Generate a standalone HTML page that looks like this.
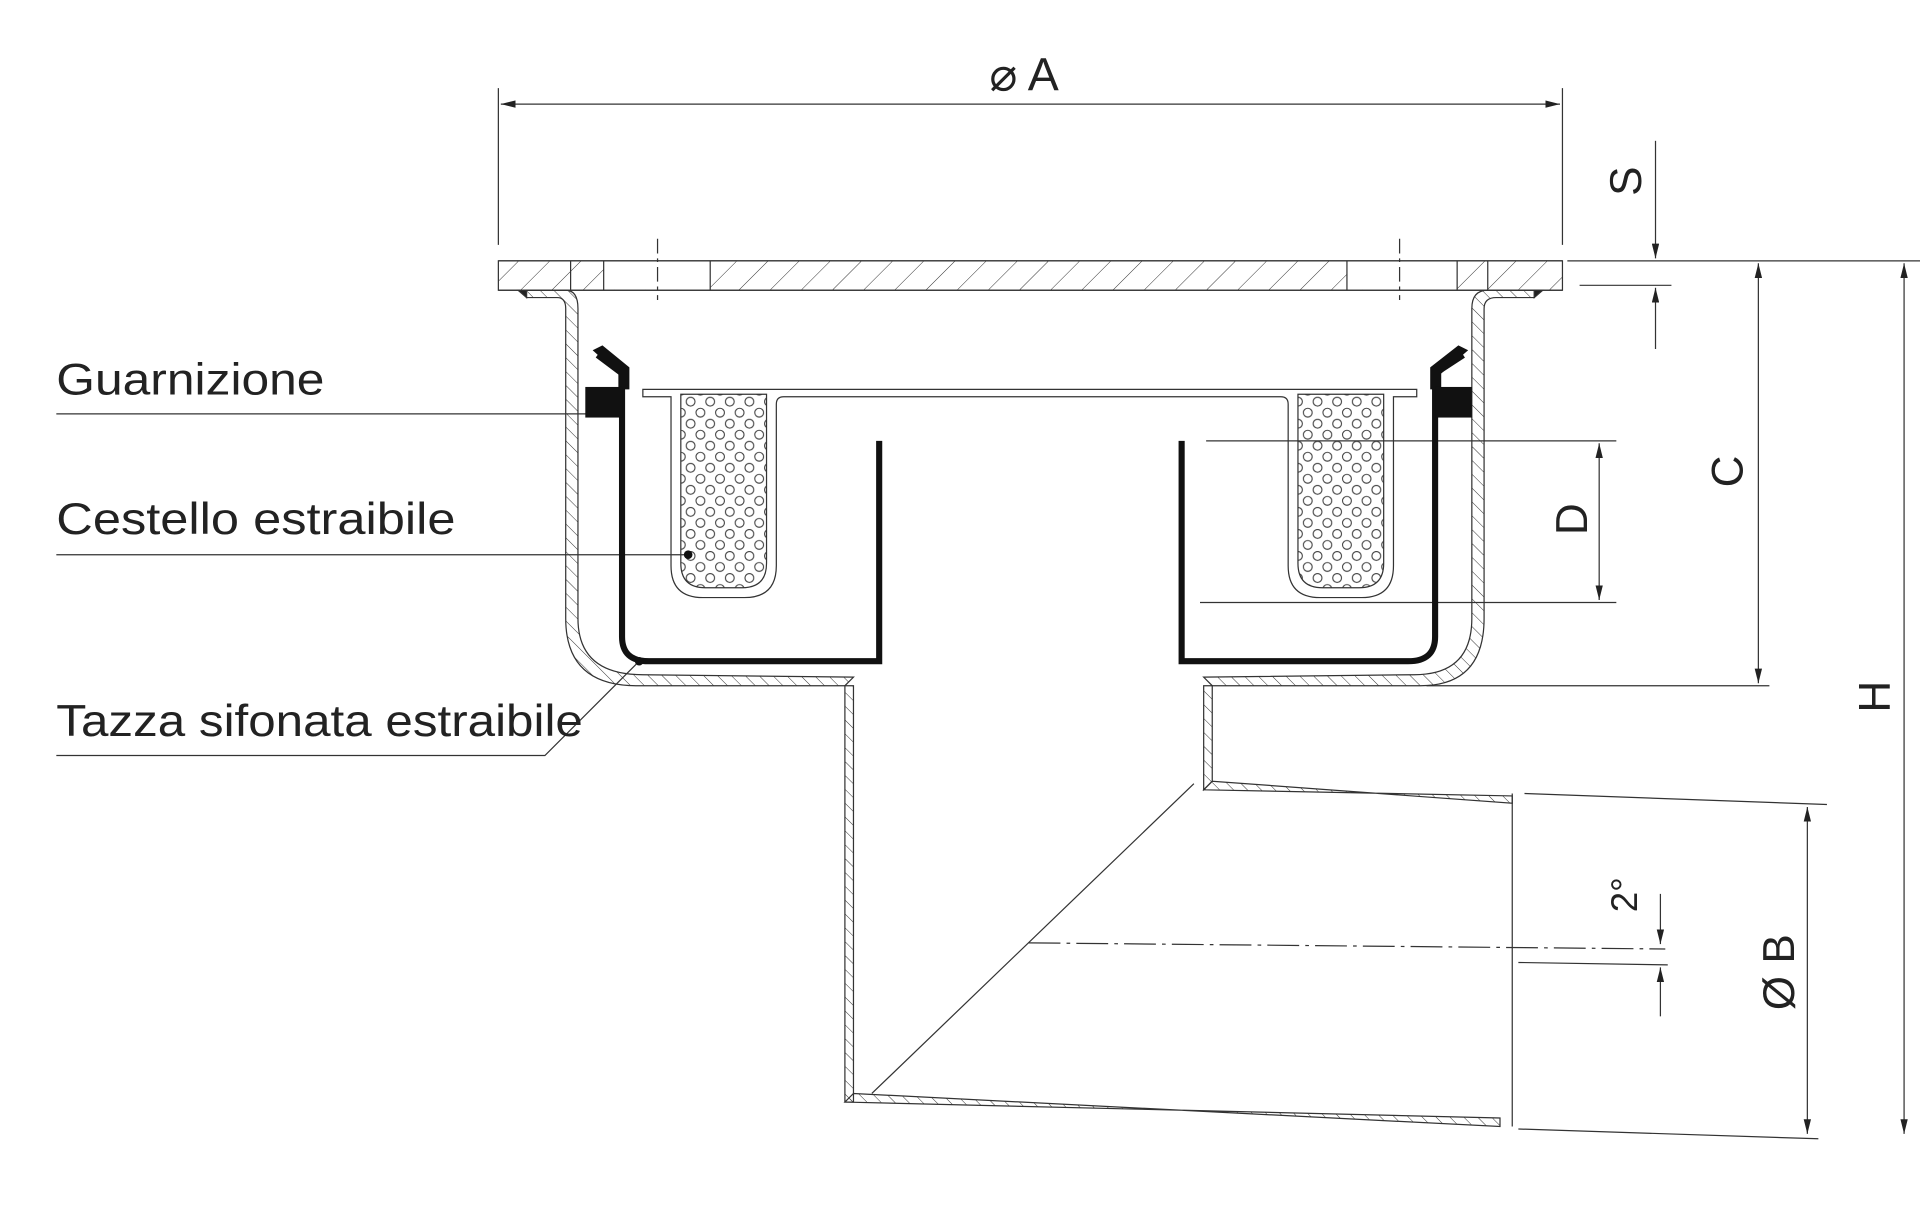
<!DOCTYPE html>
<html><head><meta charset="utf-8"><style>
html,body{margin:0;padding:0;background:#fff}
svg{display:block}
text{font-family:"Liberation Sans",sans-serif;fill:#222}
</style></head><body>
<svg width="1920" height="1207" viewBox="0 0 1568 985.7" xmlns="http://www.w3.org/2000/svg">
<defs>
<pattern id="h" width="8" height="8" patternUnits="userSpaceOnUse" patternTransform="rotate(-45)">
<line x1="0" y1="0" x2="0" y2="8" stroke="#333" stroke-width="0.8"/>
</pattern>
<pattern id="hf" width="18" height="18" patternUnits="userSpaceOnUse" patternTransform="rotate(45)">
<line x1="0" y1="0" x2="0" y2="18" stroke="#333" stroke-width="0.8"/>
</pattern>
<pattern id="holes" width="16" height="18" patternUnits="userSpaceOnUse">
<circle cx="4" cy="4" r="3.6" fill="none" stroke="#444" stroke-width="0.9"/>
<circle cx="12" cy="13" r="3.6" fill="none" stroke="#444" stroke-width="0.9"/>
</pattern>
<marker id="a" viewBox="0 0 12 6" refX="12" refY="3" markerWidth="12" markerHeight="6" orient="auto-start-reverse" markerUnits="userSpaceOnUse">
<path d="M0,0 L12,3 L0,6 z" fill="#222"/></marker>
</defs>
<g stroke="#333" fill="none" stroke-width="1">
<line x1="407" y1="72" x2="407" y2="200"/><line x1="1276" y1="72" x2="1276" y2="200"/>
<line x1="409" y1="85" x2="1274" y2="85" marker-start="url(#a)" marker-end="url(#a)"/>
<rect x="407" y="213" width="869" height="24" fill="url(#hf)"/>
<rect x="493" y="213.5" width="87" height="23" fill="#fff" stroke="none"/>
<rect x="1100" y="213.5" width="90" height="23" fill="#fff" stroke="none"/>
<line x1="407" y1="213" x2="1276" y2="213"/><line x1="407" y1="237" x2="1276" y2="237"/>
<line x1="466" y1="213" x2="466" y2="237"/><line x1="493" y1="213" x2="493" y2="237"/>
<line x1="580" y1="213" x2="580" y2="237"/><line x1="1100" y1="213" x2="1100" y2="237"/>
<line x1="1190" y1="213" x2="1190" y2="237"/><line x1="1215" y1="213" x2="1215" y2="237"/>
<line x1="537" y1="195" x2="537" y2="245" stroke-dasharray="12,4,3,4"/>
<line x1="1143" y1="195" x2="1143" y2="245" stroke-dasharray="12,4,3,4"/>
<path d="M430,237 L430,243 L455,243 Q462,243 462,252 L462,505 Q462,560 520,560 L690,560 L697,553 L525,551 Q472,551 472,505 L472,252 Q472,237 462,237 Z" fill="url(#h)"/>
<path d="M1253,237 L1253,243 L1222,243 Q1212,243 1212,252 L1212,505 Q1212,560 1160,560 L990,560 L983,553 L1155,551 Q1202,551 1202,505 L1202,252 Q1202,237 1215,237 Z" fill="url(#h)"/>
<path d="M423,237 L430,243 L430,237Z" fill="#222"/><path d="M1260,237 L1253,243 L1253,237Z" fill="#222"/>
<path d="M690,560 L690,900 L697,900 L697,560Z" fill="url(#h)"/>
<path d="M983,560 L983,645 L990,638 L990,560Z" fill="url(#h)"/>
<path d="M983,645 L1235,650 L1235,656 L990,638Z" fill="url(#h)"/>
<path d="M690,900 L1225,913 L1225,920 L697,893Z" fill="url(#h)"/>
<line x1="1235" y1="648" x2="1235" y2="920"/>
<line x1="975" y1="640" x2="712" y2="893"/>
<line x1="840" y1="770" x2="1360" y2="775" stroke-dasharray="26,5,3,5"/>
<path d="M525,318 L1157,318 L1157,324 L1138,324 L1138,462 Q1138,488 1112,488 L1078,488 Q1052,488 1052,462 L1052,330 Q1052,324 1046,324 L640,324 Q634,324 634,330 L634,462 Q634,488 608,488 L574,488 Q548,488 548,462 L548,324 L525,324 Z" fill="#fff"/>
<path d="M556,322 L626,322 L626,460 Q626,480 606,480 L576,480 Q556,480 556,460Z" fill="url(#holes)"/>
<path d="M1060,322 L1130,322 L1130,460 Q1130,480 1110,480 L1080,480 Q1060,480 1060,460Z" fill="url(#holes)"/>
<line x1="46" y1="338" x2="500" y2="338"/>
<line x1="46" y1="453" x2="562" y2="453"/>
<polyline points="46,617 445,617 522,540"/>
<line x1="1280" y1="213" x2="1568" y2="213"/>
<line x1="1290" y1="233" x2="1365" y2="233"/>
<line x1="1352" y1="115" x2="1352" y2="211" marker-end="url(#a)"/>
<line x1="1352" y1="285" x2="1352" y2="235" marker-end="url(#a)"/>
<line x1="1165" y1="560" x2="1445" y2="560"/>
<line x1="1436" y1="215" x2="1436" y2="558" marker-start="url(#a)" marker-end="url(#a)"/>
<line x1="985" y1="360" x2="1320" y2="360"/><line x1="980" y1="492" x2="1320" y2="492"/>
<line x1="1306" y1="362" x2="1306" y2="490" marker-start="url(#a)" marker-end="url(#a)"/>
<line x1="1555" y1="215" x2="1555" y2="926" marker-start="url(#a)" marker-end="url(#a)"/>
<line x1="1245" y1="648" x2="1492" y2="657"/><line x1="1240" y1="922" x2="1485" y2="930"/>
<line x1="1476" y1="659" x2="1476" y2="926" marker-start="url(#a)" marker-end="url(#a)"/>
<line x1="1240" y1="786" x2="1362" y2="788"/>
<line x1="1356" y1="730" x2="1356" y2="771" marker-end="url(#a)"/>
<line x1="1356" y1="830" x2="1356" y2="790" marker-end="url(#a)"/>
</g>
<g stroke="#111" stroke-width="5" fill="none">
<path d="M488,290 L508,305 L508,520 Q508,540 530,540 L718,540 L718,360"/>
<path d="M1195,290 L1172,305 L1172,520 Q1172,540 1150,540 L965,540 L965,360"/>
</g>
<path d="M484,286 L492,282 L514,300 L514,318 L505,318 L505,305Z" fill="#111"/>
<path d="M1199,286 L1191,282 L1168,300 L1168,318 L1177,318 L1177,305Z" fill="#111"/>
<rect x="478" y="316" width="30" height="25" fill="#111"/>
<rect x="1172" y="316" width="30" height="25" fill="#111"/>
<circle cx="562" cy="453" r="3.5" fill="#111"/><circle cx="522" cy="540" r="3.5" fill="#111"/>
<text x="46" y="322" font-size="36" textLength="219" lengthAdjust="spacingAndGlyphs">Guarnizione</text>
<text x="46" y="436" font-size="36" textLength="326" lengthAdjust="spacingAndGlyphs">Cestello estraibile</text>
<text x="46" y="601" font-size="36" textLength="430" lengthAdjust="spacingAndGlyphs">Tazza sifonata estraibile</text>
<text x="808" y="74" font-size="38">⌀ A</text>
<text font-size="36" transform="translate(1340,160) rotate(-90)">S</text>
<text font-size="36" transform="translate(1423,398) rotate(-90)">C</text>
<text font-size="36" transform="translate(1296,437) rotate(-90)">D</text>
<text font-size="36" transform="translate(1543,582) rotate(-90)">H</text>
<text font-size="36" transform="translate(1465,825) rotate(-90)">Ø B</text>
<text font-size="30" transform="translate(1337,745) rotate(-90)">2°</text>
</svg>
</body></html>
